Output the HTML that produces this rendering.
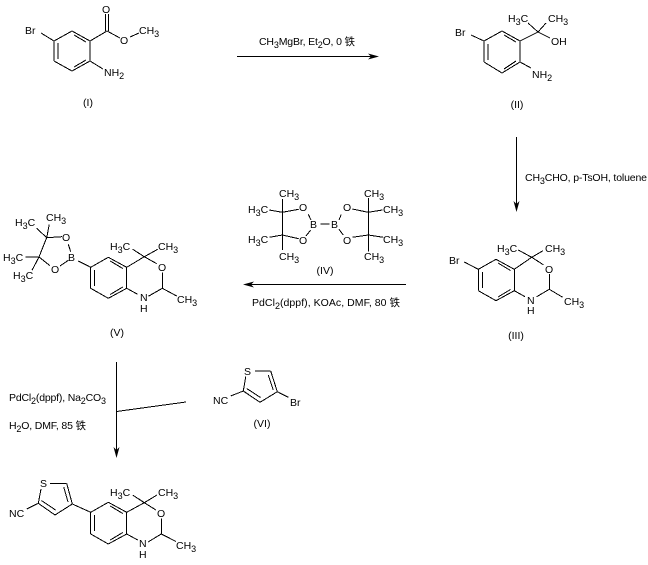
<!DOCTYPE html>
<html><head><meta charset="utf-8"><style>
html,body{margin:0;padding:0;background:#fff}
svg{display:block}
text{font-family:"Liberation Sans","Noto Sans CJK SC",sans-serif;font-size:10.5px;fill:#000}
.s{font-size:9px}
.b line{stroke:#000;stroke-width:1;shape-rendering:crispEdges}
</style></head><body>
<svg width="648" height="565" viewBox="0 0 648 565" xmlns="http://www.w3.org/2000/svg">
<rect width="648" height="565" fill="#fff"/>
<g class="b">
<!-- I -->
<line x1="54" y1="41" x2="72" y2="31"/><line x1="72" y1="31" x2="90" y2="41"/><line x1="90" y1="41" x2="90" y2="61"/><line x1="90" y1="61" x2="72" y2="71"/><line x1="72" y1="71" x2="54" y2="61"/><line x1="54" y1="61" x2="54" y2="41"/>
<line x1="58" y1="43" x2="58" y2="59"/><line x1="74" y1="35" x2="86" y2="42"/><line x1="74" y1="67" x2="86" y2="60"/>
<line x1="41" y1="33" x2="54" y2="41"/><line x1="90" y1="41" x2="107" y2="31"/>
<line x1="105.5" y1="31" x2="105.5" y2="14"/><line x1="108.5" y1="31" x2="108.5" y2="14"/>
<line x1="107" y1="31" x2="120" y2="38"/><line x1="130" y1="37" x2="139" y2="33"/><line x1="90" y1="61" x2="103" y2="69"/>
<!-- II -->
<line x1="484" y1="41" x2="502" y2="31"/><line x1="502" y1="31" x2="520" y2="41"/><line x1="520" y1="41" x2="520" y2="62"/><line x1="520" y1="62" x2="502" y2="73"/><line x1="502" y1="73" x2="484" y2="62"/><line x1="484" y1="62" x2="484" y2="41"/>
<line x1="488" y1="44" x2="488" y2="60"/><line x1="504" y1="35" x2="516" y2="42"/><line x1="504" y1="69" x2="516" y2="61"/>
<line x1="471" y1="35" x2="484" y2="41"/><line x1="520" y1="41" x2="538" y2="32"/><line x1="538" y1="32" x2="546" y2="23"/><line x1="538" y1="32" x2="528" y2="23"/><line x1="538" y1="32" x2="550" y2="38"/><line x1="520" y1="62" x2="531" y2="68"/>
<!-- III -->
<line x1="478.3" y1="269.3" x2="496" y2="259.3"/><line x1="496" y1="259.3" x2="514.3" y2="269.3"/><line x1="514.3" y1="269.3" x2="514.3" y2="290.7"/><line x1="514.3" y1="290.7" x2="496" y2="300.7"/><line x1="496" y1="300.7" x2="478.3" y2="290.7"/><line x1="478.3" y1="290.7" x2="478.3" y2="269.3"/>
<line x1="482.3" y1="272" x2="482.3" y2="288"/><line x1="498" y1="263" x2="510.5" y2="270.5"/><line x1="498" y1="297" x2="510.5" y2="289.5"/>
<line x1="464.3" y1="262" x2="478.3" y2="269.3"/><line x1="514.3" y1="269.3" x2="531.7" y2="257.3"/><line x1="531.7" y1="257.3" x2="518.3" y2="250"/><line x1="531.7" y1="257.3" x2="543" y2="250.7"/><line x1="531.7" y1="257.3" x2="543.3" y2="264.7"/><line x1="549.3" y1="274" x2="549.3" y2="289.3"/><line x1="549.3" y1="289.3" x2="536.7" y2="296.7"/><line x1="514.3" y1="290.7" x2="525" y2="296.7"/><line x1="549.3" y1="289.3" x2="562.7" y2="297.3"/>
<!-- IV -->
<line x1="282.3" y1="212.3" x2="282.3" y2="235"/><line x1="282.3" y1="212.3" x2="282.3" y2="199"/><line x1="269.3" y1="210" x2="282.3" y2="212.3"/><line x1="282.3" y1="212.3" x2="298.7" y2="209.3"/><line x1="308.3" y1="214.3" x2="311" y2="220"/><line x1="320.3" y1="224" x2="329.3" y2="224"/><line x1="310.7" y1="230" x2="306" y2="236"/><line x1="298.7" y1="238.7" x2="282.3" y2="235"/><line x1="269.3" y1="237.3" x2="282.3" y2="235"/><line x1="282.3" y1="235" x2="282.3" y2="250"/>
<line x1="368.3" y1="212.3" x2="368.3" y2="235"/><line x1="368.3" y1="212.3" x2="368.3" y2="198"/><line x1="382.3" y1="210" x2="368.3" y2="212.3"/><line x1="352.3" y1="209" x2="368.3" y2="212.3"/><line x1="341.3" y1="214.3" x2="339" y2="220"/><line x1="339" y1="229.3" x2="343.3" y2="235"/><line x1="352.3" y1="237.3" x2="368.3" y2="235"/><line x1="383.3" y1="237.3" x2="368.3" y2="235"/><line x1="368.3" y1="235" x2="368.3" y2="251.7"/>
<!-- V -->
<line x1="90.7" y1="267.3" x2="108.3" y2="257.3"/><line x1="108.3" y1="257.3" x2="126.7" y2="267.3"/><line x1="126.7" y1="267.3" x2="126.7" y2="288.3"/><line x1="126.7" y1="288.3" x2="108.3" y2="298.3"/><line x1="108.3" y1="298.3" x2="90.7" y2="288.3"/><line x1="90.7" y1="288.3" x2="90.7" y2="267.3"/>
<line x1="94.7" y1="270" x2="94.7" y2="286"/><line x1="110.3" y1="261" x2="122.7" y2="268.5"/><line x1="110.3" y1="294.5" x2="122.7" y2="287"/>
<line x1="78.3" y1="261" x2="90.7" y2="267.3"/><line x1="46.7" y1="237.7" x2="62" y2="236.7"/><line x1="46.7" y1="237.7" x2="49.3" y2="224.3"/><line x1="46.7" y1="237.7" x2="36.7" y2="228.3"/><line x1="46.7" y1="237.7" x2="39" y2="257"/><line x1="39" y1="257" x2="25.3" y2="257"/><line x1="39" y1="257" x2="32" y2="270.3"/><line x1="39" y1="257" x2="50" y2="265.7"/><line x1="60" y1="266" x2="68.3" y2="260.3"/><line x1="68.3" y1="244.3" x2="70.7" y2="251.7"/>
<line x1="126.7" y1="267.3" x2="144.3" y2="256.7"/><line x1="144.3" y1="256.7" x2="132.7" y2="249.3"/><line x1="144.3" y1="256.7" x2="157.7" y2="249.3"/><line x1="144.3" y1="256.7" x2="156.7" y2="263.7"/><line x1="162.3" y1="272.3" x2="162.3" y2="288.3"/><line x1="162.3" y1="288.3" x2="148.3" y2="296.3"/><line x1="126.7" y1="288.3" x2="137.7" y2="294.3"/><line x1="162.3" y1="288.3" x2="176.7" y2="296"/>
<!-- VI -->
<line x1="255" y1="371" x2="270.7" y2="371"/><line x1="270.7" y1="371" x2="277.3" y2="391.7"/><line x1="268.3" y1="375" x2="273.3" y2="390"/><line x1="277.3" y1="391.7" x2="260" y2="402.3"/><line x1="260" y1="402.3" x2="243.3" y2="391"/><line x1="246.7" y1="388.5" x2="260.5" y2="397.5"/><line x1="245.7" y1="376.7" x2="243.3" y2="391"/><line x1="230.7" y1="396" x2="243.3" y2="391"/><line x1="277.3" y1="391.7" x2="288.3" y2="397.3"/>
<!-- product -->
<line x1="90.7" y1="512.3" x2="108.3" y2="502.3"/><line x1="108.3" y1="502.3" x2="126.7" y2="512.3"/><line x1="126.7" y1="512.3" x2="126.7" y2="534"/><line x1="126.7" y1="534" x2="108.3" y2="544"/><line x1="108.3" y1="544" x2="90.7" y2="534"/><line x1="90.7" y1="534" x2="90.7" y2="512.3"/>
<line x1="94.7" y1="515" x2="94.7" y2="531"/><line x1="110.3" y1="506" x2="122.7" y2="513.5"/><line x1="110.3" y1="540" x2="122.7" y2="532.5"/>
<line x1="50" y1="483.3" x2="66.7" y2="483.3"/><line x1="66.7" y1="483.3" x2="72.3" y2="504"/><line x1="63.7" y1="487" x2="68" y2="502"/><line x1="72.3" y1="504" x2="55" y2="515"/><line x1="55" y1="515" x2="38.3" y2="503.3"/><line x1="41.5" y1="500.5" x2="55.5" y2="510"/><line x1="41" y1="489" x2="38.3" y2="503.3"/><line x1="26.7" y1="509" x2="38.3" y2="503.3"/><line x1="72.3" y1="504" x2="90.7" y2="512.3"/>
<line x1="126.7" y1="512.3" x2="144.3" y2="502.7"/><line x1="144.3" y1="502.7" x2="132.7" y2="495"/><line x1="144.3" y1="502.7" x2="157" y2="495"/><line x1="144.3" y1="502.7" x2="156" y2="510"/><line x1="161.3" y1="518.5" x2="161.3" y2="534"/><line x1="161.3" y1="534" x2="148" y2="542"/><line x1="126.7" y1="534" x2="137.7" y2="540"/><line x1="161.3" y1="534" x2="176" y2="541.5"/>
<!-- arrows -->
<line x1="237" y1="56.5" x2="375" y2="56.5"/>
<line x1="516.5" y1="137" x2="516.5" y2="208"/>
<line x1="247" y1="284.5" x2="406" y2="284.5"/>
<line x1="116.5" y1="362" x2="116.5" y2="454"/>
<line x1="116.5" y1="411.5" x2="186" y2="402"/>
</g>
<polygon points="379,56.5 368,53.5 371,56.5 368,59.5"/>
<polygon points="516.5,212 513.5,201 516.5,204 519.5,201"/>
<polygon points="243,284.5 254,281.5 251,284.5 254,287.5"/>
<polygon points="116.5,458 113.5,447 116.5,450 119.5,447"/>

<!-- I labels -->
<text x="25" y="34">Br</text><text x="102" y="13">O</text><text x="120" y="44">O</text>
<text x="139" y="34">CH<tspan class="s" dy="3">3</tspan></text>
<text x="104" y="76">NH<tspan class="s" dy="3">2</tspan></text>
<text x="88" y="106" text-anchor="middle">(I)</text>
<!-- reagents 1 -->
<text x="259" y="45" textLength="96">CH<tspan class="s" dy="3">3</tspan><tspan dy="-3">MgBr, Et</tspan><tspan class="s" dy="3">2</tspan><tspan dy="-3">O, 0 铁</tspan></text>
<!-- II labels -->
<text x="455" y="36">Br</text>
<text x="508" y="22">H<tspan class="s" dy="3">3</tspan><tspan dy="-3">C</tspan></text>
<text x="548" y="22">CH<tspan class="s" dy="3">3</tspan></text>
<text x="551" y="45">OH</text>
<text x="532" y="78">NH<tspan class="s" dy="3">2</tspan></text>
<text x="517" y="108" text-anchor="middle">(II)</text>
<!-- reagents 2 -->
<text x="525" y="181" textLength="122">CH<tspan class="s" dy="3">3</tspan><tspan dy="-3">CHO, p-TsOH, toluene</tspan></text>
<!-- III labels -->
<text x="449" y="264">Br</text>
<text x="497" y="252">H<tspan class="s" dy="3">3</tspan><tspan dy="-3">C</tspan></text>
<text x="545" y="252">CH<tspan class="s" dy="3">3</tspan></text>
<text x="545" y="273">O</text>
<text x="527" y="304">N</text><text x="527" y="314">H</text>
<text x="564" y="305">CH<tspan class="s" dy="3">3</tspan></text>
<text x="516" y="339" text-anchor="middle">(III)</text>
<!-- IV labels -->
<text x="279" y="197">CH<tspan class="s" dy="3">3</tspan></text>
<text x="248" y="213">H<tspan class="s" dy="3">3</tspan><tspan dy="-3">C</tspan></text>
<text x="248" y="243">H<tspan class="s" dy="3">3</tspan><tspan dy="-3">C</tspan></text>
<text x="279" y="260">CH<tspan class="s" dy="3">3</tspan></text>
<text x="299" y="211">O</text><text x="299" y="244">O</text><text x="310" y="228">B</text><text x="331" y="228">B</text><text x="343" y="211">O</text><text x="343" y="244">O</text>
<text x="364" y="197">CH<tspan class="s" dy="3">3</tspan></text>
<text x="383" y="213">CH<tspan class="s" dy="3">3</tspan></text>
<text x="383" y="243">CH<tspan class="s" dy="3">3</tspan></text>
<text x="364" y="260">CH<tspan class="s" dy="3">3</tspan></text>
<text x="325" y="274" text-anchor="middle">(IV)</text>
<!-- reagents 3 -->
<text x="252" y="306" textLength="148">PdCl<tspan class="s" dy="3">2</tspan><tspan dy="-3">(dppf), KOAc, DMF, 80 铁</tspan></text>
<!-- V labels -->
<text x="46" y="221">CH<tspan class="s" dy="3">3</tspan></text>
<text x="15" y="226">H<tspan class="s" dy="3">3</tspan><tspan dy="-3">C</tspan></text>
<text x="3" y="261">H<tspan class="s" dy="3">3</tspan><tspan dy="-3">C</tspan></text>
<text x="13" y="279">H<tspan class="s" dy="3">3</tspan><tspan dy="-3">C</tspan></text>
<text x="62" y="241">O</text><text x="51" y="273">O</text><text x="68" y="261">B</text>
<text x="110" y="250">H<tspan class="s" dy="3">3</tspan><tspan dy="-3">C</tspan></text>
<text x="158" y="250">CH<tspan class="s" dy="3">3</tspan></text>
<text x="158" y="271">O</text>
<text x="140" y="301">N</text><text x="140" y="312">H</text>
<text x="177" y="303">CH<tspan class="s" dy="3">3</tspan></text>
<text x="117" y="336" text-anchor="middle">(V)</text>
<!-- reagents 4 -->
<text x="9" y="401" textLength="97">PdCl<tspan class="s" dy="3">2</tspan><tspan dy="-3">(dppf), Na</tspan><tspan class="s" dy="3">2</tspan><tspan dy="-3">CO</tspan><tspan class="s" dy="3">3</tspan></text>
<text x="9" y="429" textLength="77">H<tspan class="s" dy="3">2</tspan><tspan dy="-3">O, DMF, 85 铁</tspan></text>
<!-- VI labels -->
<text x="244" y="375">S</text><text x="213" y="404">NC</text><text x="290" y="406">Br</text>
<text x="262" y="427" text-anchor="middle">(VI)</text>
<!-- product labels -->
<text x="40" y="487">S</text><text x="9" y="517">NC</text>
<text x="110" y="496">H<tspan class="s" dy="3">3</tspan><tspan dy="-3">C</tspan></text>
<text x="158" y="496">CH<tspan class="s" dy="3">3</tspan></text>
<text x="157" y="517">O</text>
<text x="139" y="547">N</text><text x="139" y="558">H</text>
<text x="176" y="549">CH<tspan class="s" dy="3">3</tspan></text>
</svg>
</body></html>
